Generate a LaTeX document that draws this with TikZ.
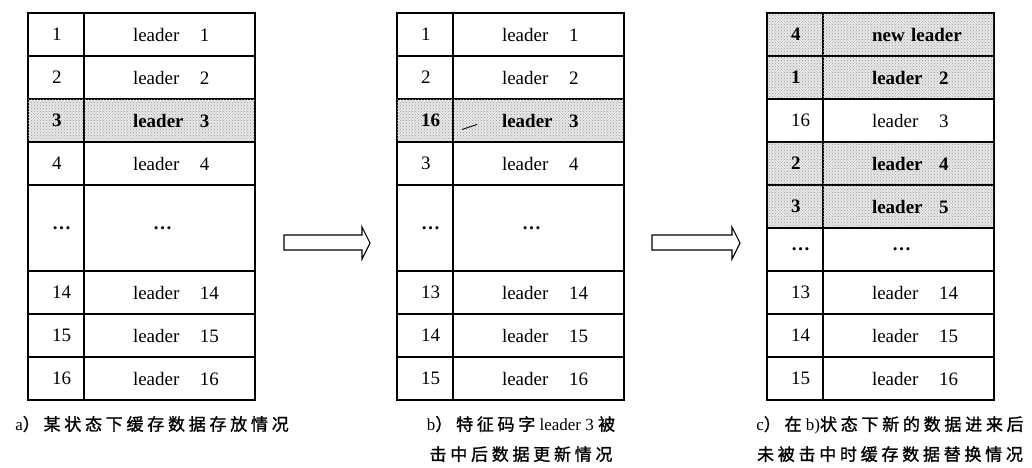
\documentclass[tikz,border=0pt]{standalone}
\usepackage{fontspec}
\setmainfont{Liberation Serif}
\newfontfamily\cjk[LetterSpace=22,FakeBold=1.2]{Noto Sans CJK SC}
\usepackage{xcolor}
\usetikzlibrary{positioning,patterns}
\newcommand{\cellfont}{\fontsize{19}{22}\selectfont}
\newcommand{\capfont}{\fontsize{17}{30}\selectfont}
\newcommand{\ldr}[1]{\makebox[67pt][l]{leader}#1}
\newcommand{\dotsrow}{\textbf{\textellipsis}}
\newcommand{\skipdots}{\hspace*{20pt}\dotsrow}
\tikzset{
  cell/.style    ={draw=black,line width=1.6pt,outer sep=0pt,minimum height=43pt,
                   font=\cellfont,align=left,anchor=north west},
  numcell/.style ={cell,minimum width=56pt,inner xsep=24pt,text width=8pt},
  datacell/.style={cell,minimum width=171pt,inner xsep=49pt,text width=73pt},
  hit/.style     ={fill=black!9,postaction={pattern=crosshatch dots,pattern color=black!40},
                   font=\cellfont\bfseries},
  tall/.style    ={minimum height=86pt},
  blockarrow/.style={draw=black,line width=1.1pt,fill=white},
  caption/.style ={font=\capfont,align=center,inner sep=0pt},
}

\begin{document}
\begin{tikzpicture}[x=1pt,y=-1pt]
\useasboundingbox (0,0) rectangle (1032,467);
% a) before
\node[numcell] (a1) at (28,13) {1};
\node[datacell,right=0pt of a1] (a1t) {\ldr{1}};
\node[numcell,below=0pt of a1] (a2) {2};
\node[datacell,right=0pt of a2] (a2t) {\ldr{2}};
\node[numcell,hit,below=0pt of a2] (a3) {3};
\node[datacell,hit,right=0pt of a3] (a3t) {\ldr{3}};
\node[numcell,below=0pt of a3] (a4) {4};
\node[datacell,right=0pt of a4] (a4t) {\ldr{4}};
\node[numcell,tall,below=0pt of a4] (a5) {\dotsrow};
\node[datacell,tall,right=0pt of a5] (a5t) {\skipdots};
\node[numcell,below=0pt of a5] (a6) {14};
\node[datacell,right=0pt of a6] (a6t) {\ldr{14}};
\node[numcell,below=0pt of a6] (a7) {15};
\node[datacell,right=0pt of a7] (a7t) {\ldr{15}};
\node[numcell,below=0pt of a7] (a8) {16};
\node[datacell,right=0pt of a8] (a8t) {\ldr{16}};
\node[caption] (capa) at (152,424) {a{\cjk）某状态下缓存数据存放情况}};

\draw[blockarrow] (284,235) -- (362,235) -- (362,227) -- (370,243)
  -- (362,259) -- (362,250) -- (284,250) -- cycle;

% b) after hit on leader 3
\node[numcell] (b1) at (397,13) {1};
\node[datacell,right=0pt of b1] (b1t) {\ldr{1}};
\node[numcell,below=0pt of b1] (b2) {2};
\node[datacell,right=0pt of b2] (b2t) {\ldr{2}};
\node[numcell,hit,below=0pt of b2] (b3) {16};
\node[datacell,hit,right=0pt of b3] (b3t) {\ldr{3}};
\node[numcell,below=0pt of b3] (b4) {3};
\node[datacell,right=0pt of b4] (b4t) {\ldr{4}};
\node[numcell,tall,below=0pt of b4] (b5) {\dotsrow};
\node[datacell,tall,right=0pt of b5] (b5t) {\skipdots};
\node[numcell,below=0pt of b5] (b6) {13};
\node[datacell,right=0pt of b6] (b6t) {\ldr{14}};
\node[numcell,below=0pt of b6] (b7) {14};
\node[datacell,right=0pt of b7] (b7t) {\ldr{15}};
\node[numcell,below=0pt of b7] (b8) {15};
\node[datacell,right=0pt of b8] (b8t) {\ldr{16}};
\draw[line width=0.9pt] ([xshift=9pt,yshift=-9pt]b3t.west) -- ([xshift=24pt,yshift=-4pt]b3t.west);
\node[caption] (capb) at (521,439)
  {b{\cjk）特征码字} leader 3 {\cjk 被}\\{\cjk 击中后数据更新情况}};

\draw[blockarrow] (652,235) -- (732,235) -- (732,227) -- (740,243)
  -- (732,259) -- (732,250) -- (652,250) -- cycle;

% c) after miss, replaced
\node[numcell,hit] (c1) at (767,13) {4};
\node[datacell,hit,right=0pt of c1] (c1t) {\mbox{new leader}};
\node[numcell,hit,below=0pt of c1] (c2) {1};
\node[datacell,hit,right=0pt of c2] (c2t) {\ldr{2}};
\node[numcell,below=0pt of c2] (c3) {16};
\node[datacell,right=0pt of c3] (c3t) {\ldr{3}};
\node[numcell,hit,below=0pt of c3] (c4) {2};
\node[datacell,hit,right=0pt of c4] (c4t) {\ldr{4}};
\node[numcell,hit,below=0pt of c4] (c5) {3};
\node[datacell,hit,right=0pt of c5] (c5t) {\ldr{5}};
\node[numcell,below=0pt of c5] (c6) {\dotsrow};
\node[datacell,right=0pt of c6] (c6t) {\skipdots};
\node[numcell,below=0pt of c6] (c7) {13};
\node[datacell,right=0pt of c7] (c7t) {\ldr{14}};
\node[numcell,below=0pt of c7] (c8) {14};
\node[datacell,right=0pt of c8] (c8t) {\ldr{15}};
\node[numcell,below=0pt of c8] (c9) {15};
\node[datacell,right=0pt of c9] (c9t) {\ldr{16}};
\node[caption] (capc) at (890,439)
  {c{\cjk）在} b){\cjk 状态下新的数据进来后}\\{\cjk 未被击中时缓存数据替换情况}};
\end{tikzpicture}
\end{document}
